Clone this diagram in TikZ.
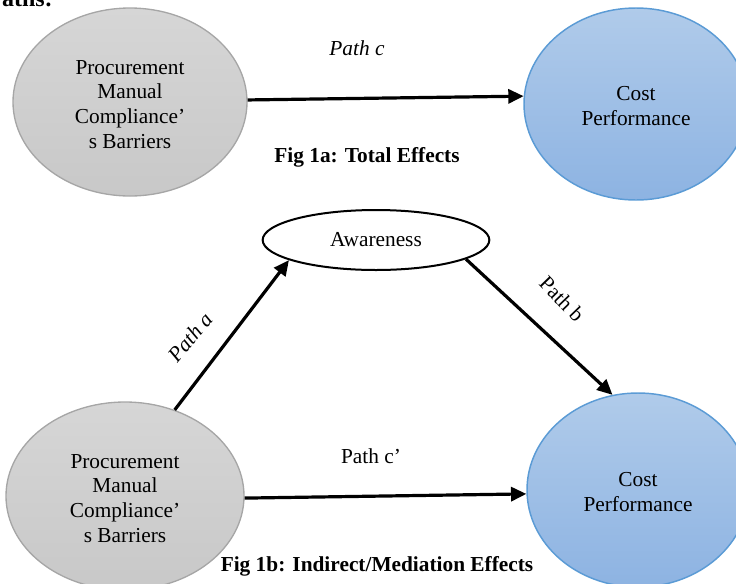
\documentclass[tikz,border=0pt]{standalone}
\usepackage{fontspec}
\setmainfont{Liberation Serif}
\usetikzlibrary{shapes.geometric,arrows.meta}
\definecolor{graytop}{HTML}{D6D6D6}
\definecolor{graybot}{HTML}{C8C8C8}
\definecolor{grayline}{HTML}{A6A6A6}
\definecolor{bluetop}{HTML}{B0CBEA}
\definecolor{bluebot}{HTML}{8DB3E2}
\definecolor{blueline}{HTML}{5B9BD5}
\begin{document}
\begin{tikzpicture}[x=0.75pt,y=-0.75pt,
  txt/.style={font=\fontsize{16}{18.4}\selectfont},
  grayell/.style={ellipse, draw=grayline, line width=1pt, top color=graytop, bottom color=graybot, align=center, inner sep=0pt, txt},
  blueell/.style={ellipse, draw=blueline, line width=1.1pt, top color=bluetop, bottom color=bluebot, align=center, inner sep=0pt, txt},
  awell/.style={ellipse, draw=black, line width=1.5pt, fill=white, inner sep=0pt, txt},
  conn/.style={line width=2.4pt, -{Triangle[length=11.5pt,width=10.5pt]}},
  lbl/.style={txt, inner sep=0pt},
  figcap/.style={font=\fontsize{16}{18.4}\selectfont\bfseries, inner sep=0pt}]
\useasboundingbox (0,0) rectangle (736,583);
\clip (0,0) rectangle (736,583);

% partially visible heading at the top
\node[figcap, anchor=base east, font=\fontsize{18}{20}\selectfont\bfseries] (head) at (53,6) {Paths:};

% Fig 1a
\node[grayell, minimum width=175.5pt, minimum height=141pt] (g1) at (130,102)
  {\rule{0pt}{14pt}Procurement\\Manual\\Compliance’\\s Barriers};
\node[blueell, minimum width=168pt, minimum height=144pt] (b1) at (636,104)
  {\rule{0pt}{14pt}Cost\\Performance};
\draw[conn] (g1.1.5) -- (b1.176);
\node[lbl, font=\fontsize{16}{18.4}\selectfont\itshape] (pc) at (357,48) {Path c};
\node[figcap] (fa) at (367,157) {Fig 1a: Total Effects};

% Fig 1b
\node[awell, minimum width=170pt, minimum height=45pt] (aw) at (376,240) {Awareness};
\node[grayell, minimum width=178.5pt, minimum height=141pt] (g2) at (125,496)
  {\rule{0pt}{14pt}Procurement\\Manual\\Compliance’\\s Barriers};
\node[blueell, minimum width=166.5pt, minimum height=145.5pt] (b2) at (638,490)
  {\rule{0pt}{14pt}Cost\\Performance};
\draw[conn] (g2.60) -- (aw.193);
\draw[conn] (aw.-12) -- (b2.105);
\draw[conn] (g2.-1) -- (b2.182);
\node[lbl, font=\fontsize{16}{18.4}\selectfont\itshape, rotate=50] (pa) at (190,337) {Path a};
\node[lbl, rotate=-46] (pb) at (562,299) {Path b};
\node[lbl] (pcp) at (371,456) {Path c’};
\node[figcap] (fb) at (377,566) {Fig 1b: Indirect/Mediation Effects};
\end{tikzpicture}
\end{document}
